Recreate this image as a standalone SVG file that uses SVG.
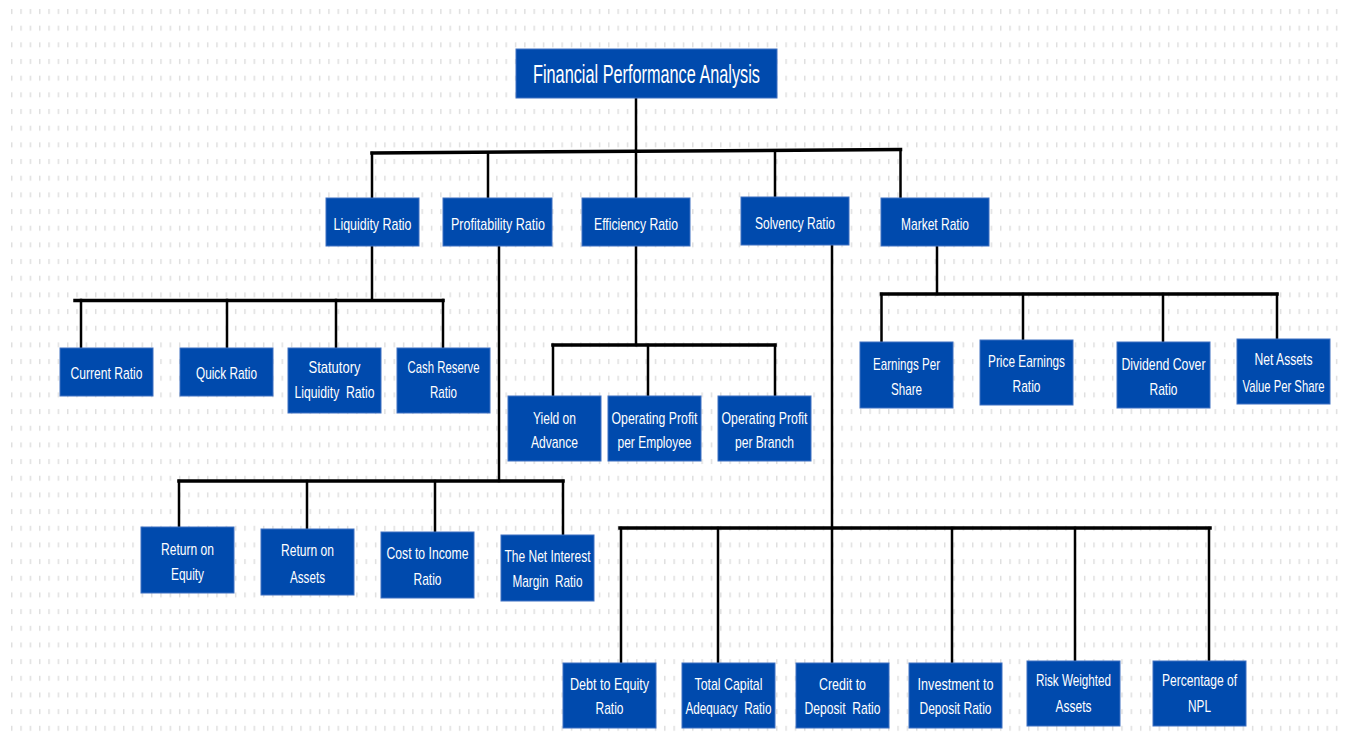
<svg xmlns="http://www.w3.org/2000/svg" width="1348" height="740" viewBox="0 0 1348 740">
<defs>
<pattern id="dots" patternUnits="userSpaceOnUse" x="11" y="9" width="9.33" height="16.67">
<rect x="0" y="0" width="1.4" height="5" fill="#dedede"/>
</pattern>
<style>
.box{fill:#004aad;stroke:#3f70c2;stroke-width:1}
.t{font-family:"Liberation Sans",Arial,sans-serif;font-size:17px;fill:#ffffff;text-anchor:middle}
.title{font-size:25px}
.c{stroke:#000;stroke-width:2.5;fill:none;stroke-linecap:square}
.bus{stroke-width:3.5}
</style>
</defs>
<rect x="0" y="0" width="1348" height="740" fill="#ffffff"/>
<rect x="8" y="5" width="1334" height="735" fill="url(#dots)"/>

<g id="connectors">
<path class="c" d="M636 98V151"/>
<path class="c bus" d="M372 153L900.5 149.5"/>
<path class="c" d="M372 153V198M488 152.5V198M636 151V198M775 150.5V197M900.5 149.5V198"/>
<path class="c" d="M372 246V300"/>
<path class="c bus" d="M75 300.5H443"/>
<path class="c" d="M81 300V348M227 300V348M336 300V348M443 300V348"/>
<path class="c" d="M499 246V481"/>
<path class="c bus" d="M179 481H563"/>
<path class="c" d="M179 481V527M307 481V529M435 481V532M563 481V535"/>
<path class="c" d="M636 246V345"/>
<path class="c bus" d="M553 345H775"/>
<path class="c" d="M553 345V396M648 345V396M775 345V396"/>
<path class="c" d="M832 245V528"/>
<path class="c bus" d="M620 528H1210"/>
<path class="c" d="M621 528V663M718 528V663M832 528V663M952 528V663M1075 528V661M1209 528V661"/>
<path class="c" d="M937 247V294"/>
<path class="c bus" d="M881.5 294H1277"/>
<path class="c" d="M881.5 294V342M1023 294V340M1163 294V342M1277 294V339"/>
</g>

<g id="n-root"><rect class="box" x="516" y="49" width="261" height="49"/><text class="t title" x="646.5" y="82.5" textLength="227" lengthAdjust="spacingAndGlyphs">Financial Performance Analysis</text></g>

<g id="n-liquidity"><rect class="box" x="326" y="198" width="93" height="48"/><text class="t" x="372.5" y="230" textLength="78" lengthAdjust="spacingAndGlyphs">Liquidity Ratio</text></g>
<g id="n-profitability"><rect class="box" x="443" y="198" width="109" height="48"/><text class="t" x="498" y="230" textLength="94" lengthAdjust="spacingAndGlyphs">Profitability Ratio</text></g>
<g id="n-efficiency"><rect class="box" x="582" y="198" width="108" height="48"/><text class="t" x="636" y="230" textLength="84" lengthAdjust="spacingAndGlyphs">Efficiency Ratio</text></g>
<g id="n-solvency"><rect class="box" x="741" y="197" width="108" height="48"/><text class="t" x="795" y="229" textLength="80" lengthAdjust="spacingAndGlyphs">Solvency Ratio</text></g>
<g id="n-market"><rect class="box" x="881" y="198" width="108" height="48"/><text class="t" x="935" y="229.5" textLength="68" lengthAdjust="spacingAndGlyphs">Market Ratio</text></g>

<g id="n-current"><rect class="box" x="60" y="348" width="93" height="48"/><text class="t" x="106.5" y="378.5" textLength="72" lengthAdjust="spacingAndGlyphs">Current Ratio</text></g>
<g id="n-quick"><rect class="box" x="180" y="348" width="93" height="48"/><text class="t" x="226.5" y="378.5" textLength="61" lengthAdjust="spacingAndGlyphs">Quick Ratio</text></g>
<g id="n-statutory"><rect class="box" x="288" y="348" width="93" height="65"/><text class="t" x="334.5" y="373" textLength="52" lengthAdjust="spacingAndGlyphs">Statutory</text><text class="t" x="334.5" y="398" textLength="80" lengthAdjust="spacingAndGlyphs" xml:space="preserve">Liquidity  Ratio</text></g>
<g id="n-cashreserve"><rect class="box" x="397" y="348" width="93" height="65"/><text class="t" x="443.5" y="372.5" textLength="72" lengthAdjust="spacingAndGlyphs">Cash Reserve</text><text class="t" x="443.5" y="398" textLength="27" lengthAdjust="spacingAndGlyphs">Ratio</text></g>

<g id="n-yield"><rect class="box" x="508" y="396" width="93" height="65"/><text class="t" x="554.5" y="423.5" textLength="43" lengthAdjust="spacingAndGlyphs">Yield on</text><text class="t" x="554.5" y="447.5" textLength="47" lengthAdjust="spacingAndGlyphs">Advance</text></g>
<g id="n-opemployee"><rect class="box" x="608" y="396" width="93" height="65"/><text class="t" x="654.5" y="423.5" textLength="86" lengthAdjust="spacingAndGlyphs">Operating Profit</text><text class="t" x="654.5" y="447.5" textLength="74" lengthAdjust="spacingAndGlyphs">per Employee</text></g>
<g id="n-opbranch"><rect class="box" x="718" y="396" width="93" height="65"/><text class="t" x="764.5" y="423.5" textLength="86" lengthAdjust="spacingAndGlyphs">Operating Profit</text><text class="t" x="764.5" y="447.5" textLength="59" lengthAdjust="spacingAndGlyphs">per Branch</text></g>

<g id="n-roe"><rect class="box" x="141" y="527" width="93" height="66"/><text class="t" x="187.5" y="555" textLength="53" lengthAdjust="spacingAndGlyphs">Return on</text><text class="t" x="187.5" y="579.5" textLength="33" lengthAdjust="spacingAndGlyphs">Equity</text></g>
<g id="n-roa"><rect class="box" x="261" y="529" width="93" height="66"/><text class="t" x="307.5" y="556" textLength="53" lengthAdjust="spacingAndGlyphs">Return on</text><text class="t" x="307.5" y="582.5" textLength="35" lengthAdjust="spacingAndGlyphs">Assets</text></g>
<g id="n-costincome"><rect class="box" x="381" y="532" width="93" height="66"/><text class="t" x="427.5" y="558.5" textLength="82" lengthAdjust="spacingAndGlyphs">Cost to Income</text><text class="t" x="427.5" y="585" textLength="28" lengthAdjust="spacingAndGlyphs">Ratio</text></g>
<g id="n-nim"><rect class="box" x="501" y="535" width="93" height="66"/><text class="t" x="547.5" y="561.5" textLength="86" lengthAdjust="spacingAndGlyphs">The Net Interest</text><text class="t" x="547.5" y="586.5" textLength="70" lengthAdjust="spacingAndGlyphs" xml:space="preserve">Margin  Ratio</text></g>

<g id="n-eps"><rect class="box" x="860" y="342" width="93" height="66"/><text class="t" x="906.5" y="369.5" textLength="67" lengthAdjust="spacingAndGlyphs">Earnings Per</text><text class="t" x="906.5" y="395" textLength="31" lengthAdjust="spacingAndGlyphs">Share</text></g>
<g id="n-pe"><rect class="box" x="980" y="340" width="93" height="65"/><text class="t" x="1026.5" y="367" textLength="77" lengthAdjust="spacingAndGlyphs">Price Earnings</text><text class="t" x="1026.5" y="392" textLength="28" lengthAdjust="spacingAndGlyphs">Ratio</text></g>
<g id="n-dividend"><rect class="box" x="1117" y="342" width="93" height="66"/><text class="t" x="1163.5" y="369.5" textLength="84" lengthAdjust="spacingAndGlyphs">Dividend Cover</text><text class="t" x="1163.5" y="395" textLength="28" lengthAdjust="spacingAndGlyphs">Ratio</text></g>
<g id="n-nav"><rect class="box" x="1237" y="339" width="93" height="65"/><text class="t" x="1283.5" y="365" textLength="58" lengthAdjust="spacingAndGlyphs">Net Assets</text><text class="t" x="1283.5" y="391.5" textLength="82" lengthAdjust="spacingAndGlyphs">Value Per Share</text></g>

<g id="n-debtequity"><rect class="box" x="563" y="663" width="93" height="65"/><text class="t" x="609.5" y="690" textLength="79" lengthAdjust="spacingAndGlyphs">Debt to Equity</text><text class="t" x="609.5" y="714" textLength="28" lengthAdjust="spacingAndGlyphs">Ratio</text></g>
<g id="n-tcar"><rect class="box" x="682" y="663" width="93" height="65"/><text class="t" x="728.5" y="690" textLength="68" lengthAdjust="spacingAndGlyphs">Total Capital</text><text class="t" x="728.5" y="714" textLength="86" lengthAdjust="spacingAndGlyphs" xml:space="preserve">Adequacy  Ratio</text></g>
<g id="n-creditdeposit"><rect class="box" x="796" y="663" width="93" height="65"/><text class="t" x="842.5" y="690" textLength="47" lengthAdjust="spacingAndGlyphs">Credit to</text><text class="t" x="842.5" y="714" textLength="76" lengthAdjust="spacingAndGlyphs" xml:space="preserve">Deposit  Ratio</text></g>
<g id="n-investdeposit"><rect class="box" x="909" y="663" width="93" height="65"/><text class="t" x="955.5" y="690" textLength="76" lengthAdjust="spacingAndGlyphs">Investment to</text><text class="t" x="955.5" y="714" textLength="72" lengthAdjust="spacingAndGlyphs">Deposit Ratio</text></g>
<g id="n-rwa"><rect class="box" x="1027" y="661" width="93" height="65"/><text class="t" x="1073.5" y="685.5" textLength="75" lengthAdjust="spacingAndGlyphs">Risk Weighted</text><text class="t" x="1073.5" y="711.5" textLength="36" lengthAdjust="spacingAndGlyphs">Assets</text></g>
<g id="n-npl"><rect class="box" x="1153" y="661" width="93" height="65"/><text class="t" x="1199.5" y="685.5" textLength="75" lengthAdjust="spacingAndGlyphs">Percentage of</text><text class="t" x="1199.5" y="711.5" textLength="23" lengthAdjust="spacingAndGlyphs">NPL</text></g>
</svg>
